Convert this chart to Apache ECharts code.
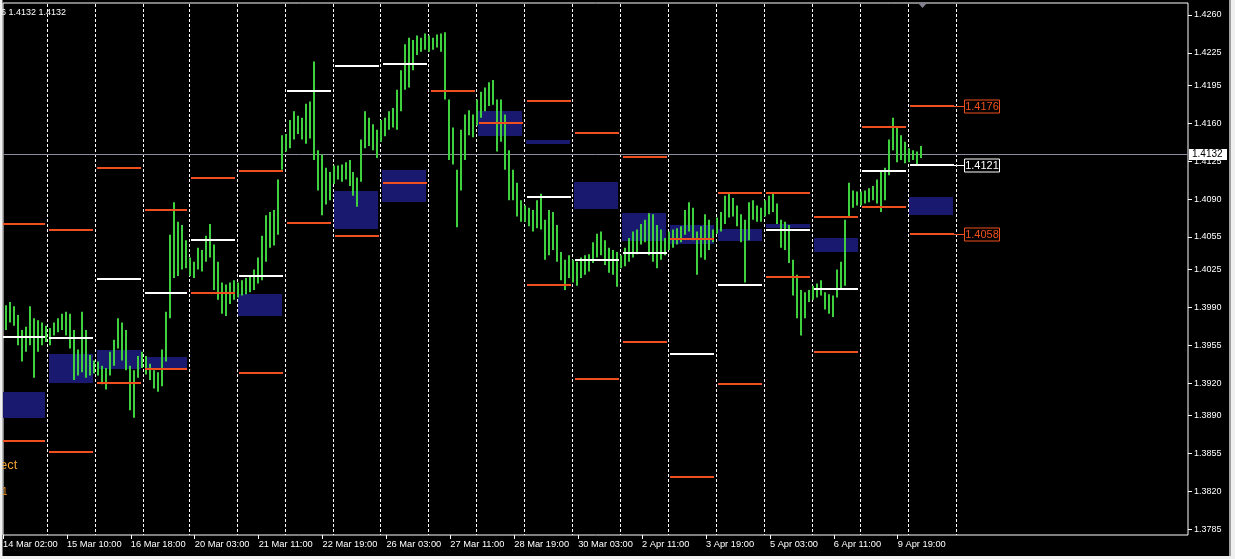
<!DOCTYPE html>
<html><head><meta charset="utf-8">
<script src="https://cdn.jsdelivr.net/npm/echarts@6/dist/echarts.min.js"></script>
<style>html,body{margin:0;padding:0;background:#000;overflow:hidden}#c{width:1235px;height:559px}</style>
</head><body><div id="c"></div>
<script>
// ---- time axis (bar index of each label, H1 bars) ----
const timeLabels = ['14 Mar 02:00','15 Mar 10:00','16 Mar 18:00','20 Mar 03:00','21 Mar 11:00','22 Mar 19:00','26 Mar 03:00','27 Mar 11:00','28 Mar 19:00','30 Mar 03:00','2 Apr 11:00','3 Apr 19:00','5 Apr 03:00','6 Apr 11:00','9 Apr 19:00'];
const labelBars = [0,32,64,96,128,160,192,224,256,288,320,352,384,416,448];
// ---- price axis ticks ----
const yTicks = [1.4260,1.4225,1.4195,1.4160,1.4125,1.4090,1.4055,1.4025,1.3990,1.3955,1.3920,1.3890,1.3855,1.3820,1.3785];
// ---- day separators (bar index where each day starts) ----
const daySep = [-2,22,46,70,93,117,141,165,189,213,237,261,285,309,333,357,381,405,429,453,477];
// ---- daily levels ----
const upper = [1.4067,1.4061,1.4119,1.4080,1.4109,1.4116,null,null,null,null,null,1.4181,1.4151,1.4129,1.4053,1.4096,1.4096,1.4073,1.4157,1.4176];
const pivot = [1.3963,1.3962,1.4016,1.4003,1.4052,1.4019,1.4190,1.4213,1.4215,null,null,1.4092,1.4034,1.4040,1.3947,1.4011,1.4061,1.4007,1.4116,1.4121];
const lower = [1.3867,1.3856,1.3920,1.3933,1.4003,1.3929,1.4068,1.4056,1.4105,1.4190,1.4160,1.4011,1.3924,1.3958,1.3833,1.3919,1.4018,1.3949,1.4083,1.4058];
const zoneTop = [1.3912,1.3947,1.3951,1.3944,null,1.4002,null,1.4097,1.4117,null,1.4171,1.4145,1.4106,1.4077,1.4066,1.4062,1.4067,1.4054,null,1.4092];
const zoneBottom = [1.3888,1.3920,1.3933,1.3934,null,1.3982,null,1.4062,1.4087,null,1.4148,1.4141,1.4081,1.4051,1.4048,1.4051,1.4063,1.4041,null,1.4075];
// ---- price bars (2-hour ranges starting at bar 1) ----
const firstBar = 1;
const highs = [1.3992,1.3995,1.3991,1.3983,1.3969,1.3972,1.3991,1.3980,1.3978,1.3976,1.3973,1.3971,1.3976,1.3980,1.3984,1.3986,1.3984,1.3969,1.3951,1.3986,
1.3969,1.3946,1.3941,1.3940,1.3936,1.3934,1.3949,1.3960,1.3980,1.3976,1.3969,1.3936,1.3932,1.3945,1.3949,1.3945,1.3938,1.3932,1.3930,1.3951,
1.3986,1.4057,1.4087,1.4069,1.4066,1.4052,1.4036,1.4032,1.4045,1.4043,1.4056,1.4067,1.4048,1.4032,1.4013,1.4011,1.4013,1.4015,1.4013,1.4015,
1.4017,1.4019,1.4025,1.4036,1.4056,1.4075,1.4078,1.4080,1.4108,1.4149,1.4150,1.4163,1.4171,1.4167,1.4165,1.4178,1.4180,1.4217,1.4135,1.4131,
1.4119,1.4115,1.4121,1.4121,1.4122,1.4124,1.4126,1.4115,1.4110,1.4145,1.4171,1.4165,1.4159,1.4154,1.4163,1.4165,1.4171,1.4174,1.4191,1.4209,
1.4233,1.4239,1.4237,1.4241,1.4239,1.4243,1.4241,1.4239,1.4242,1.4243,1.4244,1.4182,1.4156,1.4117,1.4154,1.4168,1.4172,1.4168,1.4182,1.4189,
1.4193,1.4198,1.4200,1.4182,1.4182,1.4168,1.4135,1.4117,1.4105,1.4089,1.4084,1.4082,1.4080,1.4089,1.4095,1.4071,1.4080,1.4078,1.4066,1.4041,
1.4034,1.4038,1.4034,1.4032,1.4036,1.4038,1.4039,1.4050,1.4058,1.4060,1.4052,1.4045,1.4043,1.4041,1.4038,1.4045,1.4054,1.4060,1.4062,1.4067,
1.4071,1.4077,1.4076,1.4066,1.4062,1.4054,1.4060,1.4062,1.4063,1.4065,1.4080,1.4087,1.4082,1.4060,1.4065,1.4076,1.4071,1.4062,1.4073,1.4078,
1.4093,1.4096,1.4091,1.4084,1.4076,1.4071,1.4087,1.4089,1.4084,1.4082,1.4089,1.4093,1.4096,1.4086,1.4071,1.4069,1.4066,1.4034,1.4020,1.4006,
1.4004,1.4006,1.4010,1.4012,1.4015,1.4004,1.4002,1.4001,1.4025,1.4032,1.4071,1.4105,1.4098,1.4097,1.4097,1.4098,1.4100,1.4102,1.4108,1.4115,
1.4119,1.4145,1.4165,1.4156,1.4149,1.4143,1.4137,1.4135,1.4134,1.4139];
const lows = [1.3969,1.3976,1.3973,1.3955,1.3940,1.3949,1.3955,1.3925,1.3949,1.3955,1.3958,1.3955,1.3964,1.3967,1.3969,1.3964,1.3952,1.3923,1.3927,1.3930,
1.3925,1.3927,1.3929,1.3927,1.3919,1.3914,1.3927,1.3936,1.3952,1.3941,1.3932,1.3895,1.3888,1.3925,1.3934,1.3928,1.3923,1.3915,1.3912,1.3917,
1.3940,1.3980,1.4017,1.4019,1.4025,1.4026,1.4019,1.4017,1.4025,1.4023,1.4032,1.4036,1.4006,1.3997,1.3984,1.3982,1.3993,1.3997,1.3999,1.4001,
1.4002,1.4004,1.4006,1.4012,1.4015,1.4032,1.4045,1.4047,1.4057,1.4117,1.4134,1.4137,1.4145,1.4150,1.4145,1.4141,1.4146,1.4126,1.4098,1.4075,
1.4085,1.4089,1.4104,1.4108,1.4106,1.4108,1.4102,1.4093,1.4083,1.4106,1.4137,1.4139,1.4135,1.4128,1.4143,1.4148,1.4154,1.4156,1.4154,1.4171,
1.4191,1.4193,1.4209,1.4223,1.4226,1.4228,1.4226,1.4228,1.4230,1.4226,1.4182,1.4126,1.4122,1.4064,1.4098,1.4126,1.4149,1.4147,1.4158,1.4165,
1.4171,1.4176,1.4177,1.4134,1.4143,1.4117,1.4089,1.4089,1.4074,1.4069,1.4069,1.4065,1.4060,1.4063,1.4062,1.4034,1.4038,1.4043,1.4032,1.4015,
1.4006,1.4017,1.4013,1.4010,1.4017,1.4020,1.4023,1.4031,1.4036,1.4038,1.4029,1.4022,1.4020,1.4009,1.4026,1.4028,1.4032,1.4036,1.4039,1.4048,
1.4050,1.4038,1.4032,1.4026,1.4034,1.4038,1.4043,1.4045,1.4048,1.4050,1.4057,1.4060,1.4052,1.4020,1.4036,1.4034,1.4043,1.4050,1.4058,1.4060,
1.4067,1.4073,1.4074,1.4065,1.4050,1.4013,1.4052,1.4071,1.4069,1.4069,1.4074,1.4076,1.4078,1.4067,1.4045,1.4043,1.4031,1.4001,1.3980,1.3964,
1.3980,1.3995,1.3997,1.3999,1.4001,1.3988,1.3984,1.3981,1.3999,1.4006,1.4010,1.4073,1.4082,1.4084,1.4084,1.4086,1.4087,1.4089,1.4086,1.4078,
1.4089,1.4112,1.4135,1.4124,1.4126,1.4123,1.4124,1.4126,1.4121,1.4128];
const lastPrice = 1.4132;
const headerText = '6 1.4132 1.4132';

const GREEN = '#3fd03f', ORANGE = '#f0501e', NAVY = '#191970', WHITE = '#ffffff', BIDLINE = '#8c8c9c';
const FONT = 'Liberation Sans';

const barData = highs.map((h, k) => [firstBar + 2 * k + 0.5, h, lows[k]]);
const levelData = [];
for (let d = 0; d < daySep.length - 1; d++) {
  if (upper[d] != null) levelData.push([daySep[d], daySep[d + 1], upper[d], 0]);
  if (pivot[d] != null) levelData.push([daySep[d], daySep[d + 1], pivot[d], 1]);
  if (lower[d] != null) levelData.push([daySep[d], daySep[d + 1], lower[d], 0]);
}
const zoneData = [];
for (let d = 0; d < daySep.length - 1; d++) {
  if (zoneTop[d] != null) zoneData.push([daySep[d], daySep[d + 1], zoneTop[d], zoneBottom[d]]);
}
const last = daySep.length - 2;
const tagData = [[daySep[last + 1], upper[last], 0], [daySep[last + 1], pivot[last], 1], [daySep[last + 1], lower[last], 0]];

const chart = echarts.init(document.getElementById('c'), null, { renderer: 'canvas' });
chart.setOption({
  backgroundColor: '#000',
  animation: false,
  grid: { left: 1.3, top: 3, right: 47, bottom: 24, show: true, borderColor: '#fff', borderWidth: 1, backgroundColor: '#000' },
  xAxis: {
    type: 'value', min: 0, max: 593.35,
    axisLine: { show: false, onZero: false },
    axisTick: { show: true, customValues: labelBars, length: 4, lineStyle: { color: '#fff' } },
    axisLabel: { customValues: labelBars, formatter: v => timeLabels[labelBars.indexOf(v)] || '', color: '#fff', fontSize: 9.3, fontFamily: FONT, align: 'left', margin: 5, hideOverlap: false },
    splitLine: { show: false }
  },
  yAxis: {
    type: 'value', position: 'right', min: 1.377973, max: 1.427108,
    axisLine: { show: false, onZero: false },
    axisTick: { show: true, customValues: yTicks, length: 4, lineStyle: { color: '#fff' } },
    axisLabel: { customValues: yTicks, formatter: v => v.toFixed(4), color: '#fff', fontSize: 9, fontFamily: FONT, margin: 6 },
    splitLine: { show: false }
  },
  series: [
    { // blue zones
      type: 'custom', clip: true, z: 1, data: zoneData, encode: { x: [0, 1], y: [2, 3] },
      renderItem: (p, api) => {
        const a = api.coord([api.value(0) + 0.9, api.value(2)]);
        const b = api.coord([api.value(1) - 1.1, api.value(3)]);
        return { type: 'rect', shape: { x: Math.round(a[0]), y: Math.round(a[1]), width: Math.round(b[0] - a[0]), height: Math.round(b[1] - a[1]) }, style: { fill: NAVY } };
      }
    },
    { // day separators
      type: 'custom', clip: true, z: 2, data: daySep.slice(1).map(v => [v, 1.40]), encode: { x: 0, y: 1 },
      renderItem: (p, api) => {
        const cs = p.coordSys;
        const x = Math.round(api.coord([api.value(0), 1.40])[0]) + 0.5;
        return { type: 'line', shape: { x1: x, y1: cs.y + 1, x2: x, y2: cs.y + cs.height }, style: { stroke: '#fff', lineWidth: 1, lineDash: [3, 2] } };
      }
    },
    { // bid line + axis tag
      type: 'custom', clip: false, z: 3, data: [[0, lastPrice]], encode: { x: 0, y: 1 },
      renderItem: (p, api) => {
        const cs = p.coordSys;
        const y = Math.round(api.coord([0, api.value(1)])[1]) + 0.5;
        const bx = cs.x + cs.width + 1;
        return { type: 'group', children: [
          { type: 'line', shape: { x1: cs.x, y1: y, x2: cs.x + cs.width, y2: y }, style: { stroke: BIDLINE, lineWidth: 1 } },
          { type: 'rect', z2: 5, shape: { x: bx, y: y - 5.5, width: 38, height: 11 }, style: { fill: '#fff' } },
          { type: 'text', z2: 6, style: { text: api.value(1).toFixed(4), x: bx + 3, y: y, fill: '#000', font: '10px ' + FONT, align: 'left', verticalAlign: 'middle' } }
        ] };
      }
    },
    { // price bars
      type: 'custom', clip: true, z: 4, data: barData, encode: { x: 0, y: [1, 2] },
      renderItem: (p, api) => {
        const a = api.coord([api.value(0), api.value(1)]);
        const b = api.coord([api.value(0), api.value(2)]);
        return { type: 'rect', shape: { x: Math.round(a[0]) - 1, y: a[1], width: 2, height: Math.max(1, b[1] - a[1]) }, style: { fill: GREEN } };
      }
    },
    { // daily level lines
      type: 'custom', clip: true, z: 5, data: levelData, encode: { x: [0, 1], y: 2 },
      renderItem: (p, api) => {
        const a = api.coord([api.value(0) + 1.2, api.value(2)]);
        const b = api.coord([api.value(1) - 0.6, api.value(2)]);
        return { type: 'rect', shape: { x: Math.round(a[0]), y: Math.round(a[1]) - 1, width: Math.round(b[0] - a[0]), height: 2 }, style: { fill: api.value(3) ? WHITE : ORANGE } };
      }
    },
    { // price tags of the last day
      type: 'custom', clip: false, z: 6, data: tagData, encode: { x: 0, y: 1 },
      renderItem: (p, api) => {
        const c = api.coord([api.value(0) - 0.6, api.value(1)]);
        const col = api.value(2) ? WHITE : ORANGE;
        const y = Math.round(c[1]);
        const x0 = Math.round(c[0]);
        return { type: 'group', children: [
          { type: 'line', shape: { x1: x0, y1: y + 0.5, x2: x0 + 10, y2: y + 0.5 }, style: { stroke: col, lineWidth: 1 } },
          { type: 'rect', shape: { x: x0 + 10.5, y: y - 6, width: 35, height: 13 }, style: { fill: '#000', stroke: col, lineWidth: 1 } },
          { type: 'text', style: { text: api.value(1).toFixed(4), x: x0 + 28, y: y + 1, fill: col, font: '11px ' + FONT, align: 'center', verticalAlign: 'middle' } }
        ] };
      }
    }
  ],
  graphic: [
    { type: 'text', left: 1, top: 8, z: 100, style: { text: headerText, fill: '#fff', font: '9px ' + FONT } },
    { type: 'text', left: 0, top: 459, z: 100, style: { text: 'ect', fill: '#f0a030', font: '13px ' + FONT } },
    { type: 'text', left: 2, top: 487, z: 100, style: { text: '1', fill: '#e89020', font: '10px ' + FONT } },
    { type: 'polygon', z: 100, shape: { points: [[918, 3], [927, 3], [922.5, 8]] }, style: { fill: '#808090' } },
    { type: 'rect', z: 100, shape: { x: 0, y: 0, width: 2.5, height: 559 }, style: { fill: '#f0f0f0' } },
    { type: 'rect', z: 100, shape: { x: 0, y: 556, width: 1235, height: 3 }, style: { fill: '#f0f0f0' } },
    { type: 'rect', z: 100, shape: { x: 1229, y: 0, width: 6, height: 559 }, style: { fill: '#f0f0f0' } },
    { type: 'rect', z: 100, shape: { x: 1229, y: 0, width: 2, height: 556 }, style: { fill: '#a0a0a0' } }
  ]
});
</script></body></html>
